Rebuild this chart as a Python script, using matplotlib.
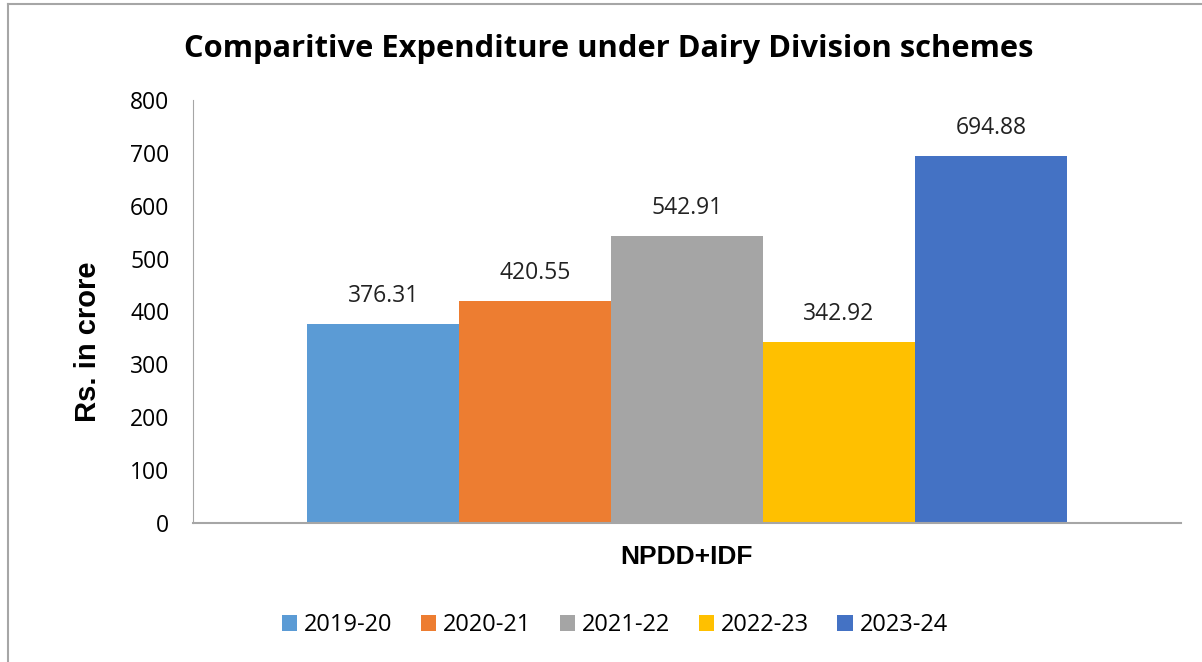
import numpy as np
import matplotlib.pyplot as plt
from matplotlib.lines import Line2D

# data
category = 'NPDD+IDF'
years = ['2019-20', '2020-21', '2021-22', '2022-23', '2023-24']
spend = [376.31, 420.55, 542.91, 342.92, 694.88]
colors = ['#5b9bd5', '#ed7d31', '#a5a5a5', '#ffc000', '#4472c4']
yticks = [0, 100, 200, 300, 400, 500, 600, 700, 800]

W, H = 1202, 662
fig = plt.figure(figsize=(W / 100, H / 100), dpi=100)
ax = fig.add_axes([193 / W, 1 - 523 / H, (1181 - 193) / W, (523 - 100) / H])

# bars fill ~77% of the single category slot
bar_w = 0.769 / len(years)
offsets = (np.arange(len(years)) - (len(years) - 1) / 2) * bar_w
for off, yr, val, c in zip(offsets, years, spend, colors):
    ax.bar(off, val, width=bar_w, color=c, label=yr)
    ax.annotate(f'{val:.2f}', (off, val), xytext=(0, 20), textcoords='offset points',
                ha='center', va='center', fontsize=16.5, family='Open Sans', color='#222222')

ax.set_xlim(-0.5, 0.5)
ax.set_ylim(0, 800)
ax.set_yticks(yticks)
ax.set_yticklabels([str(t) for t in yticks], family='Open Sans', fontsize=16.5)
ax.tick_params(axis='y', length=0, pad=17)
ax.set_xticks([0])
ax.set_xticklabels([category], fontweight='bold', fontsize=19, family='Liberation Sans')
ax.tick_params(axis='x', length=0, pad=16)

for s in ['top', 'right']:
    ax.spines[s].set_visible(False)
ax.spines['left'].set_color('#a6a6a6')
ax.spines['bottom'].set_color('#a6a6a6')
ax.spines['bottom'].set_linewidth(1.5)

fig.text(88 / W, 1 - 342 / H, 'Rs. in crore', rotation=90, ha='center', va='center',
         fontsize=21, fontweight='bold', family='Liberation Sans')
fig.text(609 / W, 1 - 49 / H, 'Comparitive Expenditure under Dairy Division schemes',
         ha='center', va='center', fontsize=22.2, fontweight='bold', family='Open Sans')

ax.legend(loc='center', bbox_to_anchor=(615 / W, 1 - 625 / H), bbox_transform=fig.transFigure,
          ncol=5, frameon=False, handlelength=0.64, handleheight=0.64, handletextpad=0.3,
          columnspacing=1.2, prop={'family': 'Open Sans', 'size': 17})

# chart frame (left and top edges visible)
fig.add_artist(Line2D([8 / W, 8 / W], [0, 1 - 4 / H], transform=fig.transFigure,
                      color='#a6a6a6', lw=1.5))
fig.add_artist(Line2D([8 / W, 1], [1 - 4 / H, 1 - 4 / H], transform=fig.transFigure,
                      color='#a6a6a6', lw=1.5))

fig.savefig('out.png', dpi=100)
